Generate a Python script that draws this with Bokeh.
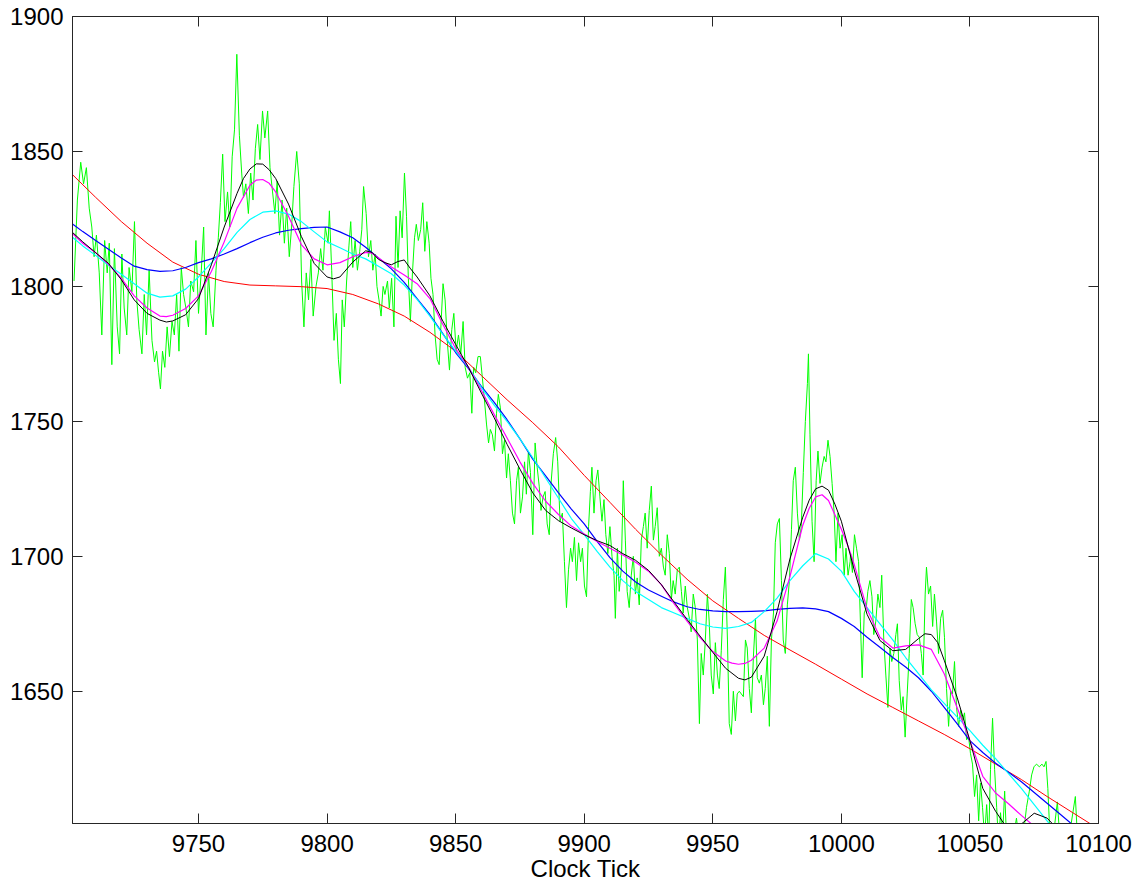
from bokeh.plotting import figure
from bokeh.models import Range1d, FixedTicker, LinearAxis, CustomJSTickFormatter
from bokeh.embed import file_html
from bokeh.resources import INLINE

# ---------------------------------------------------------------- data
x_ticks = [9750, 9800, 9850, 9900, 9950, 10000, 10050, 10100]
y_ticks = [1650, 1700, 1750, 1800, 1850, 1900]

# raw samples (clock tick, reading)
raw_tick = [
    9701.6, 9702.9, 9704.2, 9705.3, 9706.4, 9707.5, 9708.5, 9709.4, 9710.3, 9711.4,
    9712.4, 9713.5, 9714.5, 9715.3, 9716.3, 9717.3, 9718.4, 9719.3, 9720.2, 9721.1,
    9722.1, 9723.0, 9724.1, 9725.1, 9726.0, 9726.9, 9728.0, 9728.9, 9729.8, 9730.8,
    9731.9, 9732.9, 9733.7, 9734.5, 9735.2, 9736.0, 9736.9, 9737.8, 9738.7, 9739.7,
    9740.6, 9741.5, 9742.4, 9743.3, 9744.2, 9745.1, 9746.1, 9747.0, 9748.1, 9749.0,
    9750.0, 9751.1, 9752.0, 9752.9, 9753.9, 9754.8, 9755.7, 9756.8, 9757.7, 9758.5,
    9759.4, 9760.3, 9761.3, 9762.2, 9763.1, 9764.0, 9764.9, 9765.9, 9766.8, 9767.5,
    9768.4, 9769.4, 9770.3, 9771.2, 9772.1, 9773.0, 9773.9, 9774.9, 9775.8, 9776.9,
    9777.8, 9778.8, 9779.7, 9780.6, 9781.5, 9782.5, 9783.4, 9784.3, 9785.3, 9786.2,
    9787.1, 9788.2, 9789.2, 9790.1, 9791.0, 9791.9, 9792.8, 9793.7, 9794.6, 9795.7,
    9796.6, 9797.5, 9798.4, 9799.3, 9800.4,
    9800.9, 9801.8, 9802.7, 9803.6, 9804.4, 9805.2, 9805.9, 9806.7, 9807.6, 9808.5,
    9809.2, 9810.0, 9810.9, 9811.8, 9812.7, 9813.5, 9814.2, 9815.2, 9816.1, 9817.0,
    9817.8, 9818.7, 9819.4, 9820.2, 9821.0, 9821.8, 9822.5, 9823.5, 9824.2, 9825.1,
    9826.0, 9826.8, 9827.6, 9828.4, 9829.2, 9830.1, 9830.9, 9831.6, 9832.4, 9833.2,
    9834.0, 9834.7, 9835.5, 9836.4, 9837.2, 9838.0, 9838.8, 9839.7, 9840.4, 9841.2,
    9842.0, 9842.8, 9843.6, 9844.3, 9845.1, 9845.9, 9846.8, 9847.6, 9848.5, 9849.3,
    9850.2, 9851.1, 9852.0, 9852.9, 9853.7, 9854.6, 9855.5, 9856.3, 9857.0, 9857.8,
    9858.7, 9859.6, 9860.4, 9861.2, 9862.0, 9862.8, 9863.5, 9864.3, 9865.1, 9865.9,
    9866.6, 9867.4, 9868.2, 9869.0, 9869.8, 9870.5, 9871.3, 9872.1, 9872.9, 9873.7,
    9874.4, 9875.2, 9876.0, 9876.8, 9877.5, 9878.3, 9879.1, 9880.0, 9880.9, 9881.7,
    9882.5, 9883.2, 9884.0, 9884.8, 9885.6, 9886.4, 9887.1, 9888.0, 9888.9, 9889.7,
    9890.6, 9891.5, 9892.3, 9893.1, 9893.9, 9894.7, 9895.4, 9896.2, 9897.0, 9897.8,
    9898.6, 9899.3, 9900.1, 9900.9, 9901.7, 9902.4,
    9903.0, 9903.8, 9904.6, 9905.3, 9906.1, 9906.9, 9907.7, 9908.4, 9909.2, 9910.0,
    9910.8, 9911.6, 9912.1, 9912.9, 9913.6, 9914.4, 9915.2, 9916.0, 9916.7, 9917.5,
    9918.3, 9919.1, 9919.9, 9920.6, 9921.4, 9922.2, 9923.0, 9923.7, 9924.5, 9925.3,
    9926.1, 9926.9, 9927.6, 9928.4, 9929.2, 9930.0, 9930.8, 9931.5, 9932.3, 9933.1,
    9933.9, 9934.6, 9935.4, 9936.2, 9937.0, 9937.8, 9938.5, 9939.3, 9940.1, 9940.9,
    9941.6, 9942.4, 9943.2, 9944.0, 9944.8, 9945.5, 9946.3, 9947.1, 9947.9, 9948.6,
    9949.4, 9950.2, 9951.0, 9951.8, 9952.5, 9953.3, 9954.1, 9954.9, 9955.7, 9956.4,
    9957.2, 9958.0, 9958.8, 9959.5, 9960.3, 9961.1, 9961.9, 9962.7, 9963.4, 9964.2,
    9965.0, 9965.8, 9966.6, 9967.3, 9968.1, 9968.9, 9969.7, 9970.4, 9971.2, 9972.0,
    9972.8, 9973.6, 9974.3, 9975.1, 9975.9, 9976.7, 9977.4, 9978.2, 9979.0, 9979.8,
    9980.6, 9981.3, 9982.1, 9982.9, 9983.7, 9984.4, 9985.2, 9986.0, 9986.8, 9987.2,
    9987.8, 9988.6, 9989.4, 9990.2, 9990.9, 9991.7, 9992.5, 9993.3, 9994.0, 9994.8,
    9995.6, 9996.4, 9997.2, 9997.9, 9998.7, 9999.5, 10000.3, 10001.1, 10001.8, 10002.6,
    10003.4,
    10003.6, 10004.3, 10005.1, 10005.9, 10006.7, 10007.4, 10008.1, 10008.9, 10009.7, 10010.3,
    10011.1, 10011.9, 10012.6, 10013.4, 10014.2, 10015.0, 10015.7, 10016.5, 10017.3, 10018.1,
    10018.9, 10019.6, 10020.4, 10021.2, 10021.8, 10022.5, 10023.3, 10024.0, 10024.8, 10025.6,
    10026.4, 10027.2, 10027.9, 10028.7, 10029.5, 10030.3, 10031.1, 10031.8, 10032.6, 10033.1,
    10033.9, 10034.7, 10035.5, 10036.2, 10037.0, 10037.8, 10038.6, 10039.4, 10040.1, 10040.9,
    10041.7, 10042.5, 10043.2, 10044.0, 10044.8, 10045.6, 10046.4, 10047.1, 10047.9, 10048.7,
    10049.5, 10050.2, 10051.0, 10051.8, 10052.6, 10053.4, 10054.1, 10054.9, 10055.7, 10056.5,
    10057.3, 10058.0, 10058.8, 10059.6, 10060.4, 10061.1, 10061.9, 10062.7, 10063.5, 10064.3,
    10065.6, 10066.9, 10068.1, 10069.4, 10070.7, 10072.0, 10073.1, 10074.0, 10074.9, 10075.9,
    10077.0, 10078.0, 10078.8, 10079.6, 10080.3, 10081.1, 10082.4, 10084.0, 10085.0, 10086.3,
    10087.6, 10088.9, 10091.0, 10091.8, 10092.8, 10096.0, 10100.0,
]
raw_value = [
    1802, 1832, 1846, 1838, 1844, 1829, 1822, 1811, 1819, 1805,
    1782, 1817, 1805, 1816, 1771, 1814, 1785, 1775, 1812, 1792,
    1782, 1807, 1798, 1824, 1795, 1784, 1775, 1797, 1782, 1806,
    1780, 1772, 1776, 1768, 1762, 1776, 1770, 1785, 1774, 1787,
    1782, 1797, 1776, 1807, 1797, 1792, 1785, 1802, 1798, 1817,
    1790, 1806, 1822, 1782, 1805, 1790, 1785, 1806, 1818, 1831,
    1849, 1824, 1835, 1822, 1848, 1858, 1886, 1856, 1842, 1833,
    1838, 1827, 1842, 1832, 1851, 1860, 1847, 1865, 1855, 1865,
    1844, 1835, 1827, 1839, 1819, 1832, 1816, 1829, 1811, 1822,
    1837, 1850, 1838, 1802, 1785, 1805, 1795, 1810, 1789, 1800,
    1805, 1814, 1806, 1822, 1816,
    1828, 1806, 1780, 1790, 1773, 1764, 1795, 1785, 1802, 1815,
    1824, 1807, 1817, 1806, 1813, 1821, 1837, 1827, 1811, 1817,
    1806, 1812, 1800, 1795, 1789, 1800, 1797, 1802, 1792, 1803,
    1785, 1826, 1807, 1828, 1818, 1842, 1826, 1803, 1787, 1805,
    1818, 1823, 1817, 1821, 1831, 1813, 1824, 1816, 1803, 1797,
    1782, 1773, 1771, 1786, 1801, 1795, 1779, 1769, 1784, 1790,
    1776, 1782, 1775, 1787, 1770, 1766, 1768, 1753, 1770, 1768,
    1774, 1774, 1766, 1758, 1749, 1742, 1747, 1745, 1739, 1753,
    1760, 1755, 1738, 1743, 1729, 1738, 1728, 1716, 1712, 1728,
    1733, 1716, 1722, 1735, 1723, 1739, 1731, 1708, 1742, 1733,
    1726, 1717, 1722, 1724, 1712, 1708, 1727, 1738, 1744, 1735,
    1713, 1716, 1698, 1681, 1695, 1703, 1698, 1707, 1691, 1705,
    1698, 1703, 1689, 1685, 1711, 1724,
    1733, 1716, 1728, 1732, 1722, 1713, 1721, 1708, 1701, 1711,
    1700, 1693, 1677, 1703, 1687, 1695, 1728, 1706, 1687, 1681,
    1693, 1700, 1686, 1692, 1682, 1706, 1711, 1716, 1703, 1717,
    1726, 1706, 1711, 1718, 1700, 1703, 1696, 1693, 1708, 1701,
    1684, 1691, 1686, 1695, 1696, 1687, 1679, 1689, 1681, 1677,
    1672, 1686, 1681, 1669, 1638, 1664, 1656, 1669, 1686, 1676,
    1656, 1649, 1668, 1656, 1651, 1665, 1684, 1696, 1669, 1638,
    1634, 1650, 1639, 1649, 1650, 1649, 1648, 1669, 1666, 1651,
    1642, 1663, 1677, 1655, 1653, 1656, 1645, 1651, 1663, 1637,
    1669, 1679, 1705, 1712, 1714, 1691, 1669, 1664, 1682, 1691,
    1710, 1728, 1733, 1716, 1706, 1711, 1731, 1750, 1764, 1775,
    1745, 1713, 1698, 1728, 1739, 1727, 1733, 1737, 1735, 1743,
    1737, 1727, 1716, 1698, 1716, 1703, 1708, 1693, 1703, 1693,
    1698,
    1701, 1694, 1708, 1703, 1698, 1676, 1655, 1679, 1681, 1687,
    1691, 1685, 1671, 1676, 1686, 1681, 1693, 1669, 1656, 1644,
    1666, 1661, 1664, 1671, 1675, 1654, 1643, 1648, 1633, 1649,
    1664, 1684, 1681, 1675, 1671, 1670, 1664, 1656, 1686, 1696,
    1686, 1689, 1674, 1686, 1676, 1664, 1677, 1680, 1670, 1651,
    1637, 1650, 1649, 1661, 1644, 1637, 1643, 1639, 1642, 1632,
    1633, 1627, 1623, 1611, 1619, 1602, 1616, 1607, 1596, 1608,
    1595, 1621, 1640, 1621, 1607, 1594, 1605, 1596, 1613, 1594,
    1590, 1596, 1603, 1592, 1596, 1607, 1613, 1619, 1622, 1623,
    1622, 1623, 1622, 1624, 1614, 1597, 1596, 1609, 1595, 1592,
    1596, 1598, 1611, 1596, 1590, 1594, 1590,
]

# smoothed fits
red_tick = [9701] + list(range(9710, 10101, 10))
red_fit = [
    1841.4, 1833, 1824, 1816, 1809, 1804.5, 1801.8, 1800.5, 1800.2, 1799.9,
    1799.2, 1797, 1793.5, 1789, 1783, 1776, 1767, 1758, 1749.5, 1740.5,
    1730, 1720, 1710, 1700.5, 1691.5, 1683.5, 1677, 1670.7, 1665.3, 1660,
    1654.5, 1649, 1644, 1639, 1634, 1628.7, 1623, 1617.3, 1611, 1605,
    1599,
]

fit_tick = [9701] + list(range(9705, 10101, 5))
blue_fit = [
    1823.1, 1820.3, 1817, 1813.8, 1810.5, 1807.5, 1806.2, 1805.6, 1805.8, 1807,
    1808.8, 1810.2, 1812, 1814, 1816.2, 1818.2, 1819.8, 1820.8, 1821.4, 1821.9,
    1822, 1820.2, 1818, 1814.5, 1810.5, 1806.5, 1801.5, 1795.5, 1789.5, 1782.5,
    1775.5, 1769.5, 1763, 1757, 1750.6, 1743.5, 1736, 1729.8, 1723.5, 1717.5,
    1712, 1705.5, 1699.5, 1694.5, 1690.5, 1687.5, 1685.2, 1683, 1681.3, 1680.3,
    1679.8, 1679.5, 1679.5, 1679.6, 1679.8, 1680.3, 1680.7, 1680.9, 1680.5, 1679.5,
    1677, 1674, 1670, 1666.3, 1662.5, 1659, 1655, 1650, 1644, 1638,
    1631.7, 1627.3, 1623.3, 1620, 1616.5, 1612.5, 1608.5, 1604.5, 1600.5, 1597.5,
    1595,
]
cyan_fit = [
    1818.2, 1815, 1811.5, 1807.8, 1804.5, 1801, 1797.5, 1796, 1796.5, 1799,
    1803.5, 1808.7, 1814, 1820, 1824.8, 1827.5, 1828, 1826.8, 1824, 1820.2,
    1816.5, 1814.3, 1812, 1810.2, 1807.5, 1804.7, 1800.5, 1795.2, 1789, 1782.3,
    1776, 1770, 1762.5, 1756, 1750, 1743.5, 1736.5, 1729, 1721.5, 1714,
    1708, 1701.8, 1696, 1691, 1687, 1684, 1681, 1679, 1677, 1675,
    1673.8, 1673.3, 1674, 1675.5, 1679.5, 1684.5, 1691, 1696.5, 1701, 1699,
    1694.5, 1687, 1681, 1675, 1669, 1662.5, 1656.5, 1650.5, 1645.5, 1640.5,
    1635.4, 1630, 1625, 1619.5, 1614, 1608, 1602, 1596, 1590, 1584,
    1578,
]
magenta_fit = [
    1819.6, 1816, 1812.5, 1808.2, 1803, 1796.5, 1792, 1789, 1789.3, 1791.8,
    1796.5, 1805.5, 1816.5, 1829, 1837.5, 1839.6, 1835, 1826, 1815.5, 1810.2,
    1808, 1808.8, 1811, 1812.6, 1810.5, 1807.2, 1804.2, 1801, 1795.5, 1786,
    1777, 1770, 1761.5, 1752.5, 1743.8, 1735, 1727, 1720.4, 1715.5, 1711.2,
    1708.3, 1705.5, 1703, 1700.5, 1697.8, 1694.5, 1689.5, 1682.4, 1676, 1670,
    1664.7, 1661.2, 1660, 1661.5, 1666, 1676, 1692.5, 1711.5, 1722, 1720.7,
    1710, 1697, 1680.5, 1670, 1666, 1666.8, 1667.2, 1665.5, 1656.5, 1644,
    1631.7, 1618.5, 1612.3, 1608.3, 1604, 1600, 1596, 1592, 1588, 1584,
    1580,
]
black_fit = [
    1820, 1816.5, 1812.5, 1808.5, 1802.5, 1795, 1790, 1787.5, 1787.2, 1789.5,
    1795.5, 1808, 1822, 1834.5, 1843.5, 1845.3, 1840, 1830.5, 1818.5, 1808.5,
    1803.5, 1803.5, 1809, 1813.2, 1810, 1808, 1809.8, 1803.5, 1796.5, 1787.2,
    1778.5, 1770, 1760.5, 1751.3, 1741.5, 1732.3, 1723.5, 1717, 1713.2, 1710.5,
    1708, 1705.8, 1704, 1701, 1698.5, 1694.8, 1689.5, 1683, 1676.6, 1670.5,
    1664.4, 1658.5, 1654.8, 1655.2, 1663, 1679.5, 1699, 1714.5, 1725, 1724.5,
    1713, 1695, 1678.5, 1668.8, 1665, 1665.5, 1669.5, 1671, 1661.5, 1647.8,
    1631.7, 1614, 1605.5, 1598.5, 1600.8, 1604.8, 1603, 1598, 1594, 1590,
    1586,
]

# extra readings around the turning points of the two sharpest fits
magenta_extra_tick = [9737.5, 9772.5, 9777.5, 9817.5, 9957.5, 9962.5, 9987.5, 9992.5, 10002.5]
magenta_extra_fit = [1788.8, 1839.4, 1838.2, 1812.3, 1660.4, 1660.3, 1717.8, 1722.8, 1704]
black_extra_tick = [9737.5, 9767.5, 9772.5, 9777.5, 9802.5, 9817.5, 9822.5, 9827.5,
                    9832.5, 9962.5, 9987.5, 9992.5, 9997.5, 10032.5, 10037.5]
black_extra_fit = [1786.8, 1840, 1845.4, 1843.2, 1802.8, 1812.6, 1808.8, 1809.2,
                   1806.5, 1654.2, 1720.8, 1726, 1719.3, 1671.3, 1668]


def merged(base_tick, base_val, extra_tick, extra_val):
    pairs = sorted(zip(list(base_tick) + list(extra_tick), list(base_val) + list(extra_val)))
    return [t for t, _ in pairs], [v for _, v in pairs]


magenta_tick, magenta_vals = merged(fit_tick, magenta_fit, magenta_extra_tick, magenta_extra_fit)
black_tick, black_vals = merged(fit_tick, black_fit, black_extra_tick, black_extra_fit)

# ---------------------------------------------------------------- figure
FONT = "Liberation Sans"
AXIS_COLOR = "#262626"

p = figure(
    width=1134, height=885,
    output_backend="svg", toolbar_location=None,
    x_range=Range1d(9701, 10100), y_range=Range1d(1601, 1900),
    min_border_left=72, min_border_right=36,
    min_border_top=16, min_border_bottom=62,
    x_axis_label="Clock Tick",
)
p.grid.visible = False
p.background_fill_color = "white"
p.border_fill_color = "white"
p.outline_line_color = AXIS_COLOR
p.outline_line_width = 1

p.xaxis.ticker = FixedTicker(ticks=x_ticks)
p.yaxis.ticker = FixedTicker(ticks=y_ticks)

for ax in (p.xaxis[0], p.yaxis[0]):
    ax.major_label_text_font = FONT
    ax.major_label_text_font_size = "24px"
    ax.major_label_text_color = "black"
    ax.major_tick_in = 10
    ax.major_tick_out = 0
    ax.minor_tick_line_color = None
    ax.axis_line_color = AXIS_COLOR
    ax.major_tick_line_color = AXIS_COLOR

p.xaxis.major_label_standoff = 11
p.yaxis.major_label_standoff = 9
p.xaxis.axis_label_text_font = FONT
p.xaxis.axis_label_text_font_size = "24px"
p.xaxis.axis_label_text_font_style = "normal"
p.xaxis.axis_label_text_color = "black"
p.xaxis.axis_label_standoff = 0

# mirrored tick marks on the top and right edges of the box
blank = CustomJSTickFormatter(code="return ''")
for side, ticks in (("above", x_ticks), ("right", y_ticks)):
    mirror = LinearAxis(
        ticker=FixedTicker(ticks=ticks), formatter=blank,
        major_tick_in=10, major_tick_out=0, major_label_standoff=0,
        minor_tick_line_color=None,
        axis_line_color=AXIS_COLOR, major_tick_line_color=AXIS_COLOR,
    )
    p.add_layout(mirror, side)

# ---------------------------------------------------------------- series
style = dict(line_join="round")
p.line(raw_tick, raw_value, line_color="#00ff00", line_width=1, **style)
p.line(red_tick, red_fit, line_color="#ff0000", line_width=1, **style)
p.line(fit_tick, blue_fit, line_color="#0000ff", line_width=1.2, **style)
p.line(fit_tick, cyan_fit, line_color="#00ffff", line_width=1.2, **style)
p.line(magenta_tick, magenta_vals, line_color="#ff00ff", line_width=1.2, **style)
p.line(black_tick, black_vals, line_color="#000000", line_width=1, **style)

open("out.html", "w").write(file_html(p, INLINE))
